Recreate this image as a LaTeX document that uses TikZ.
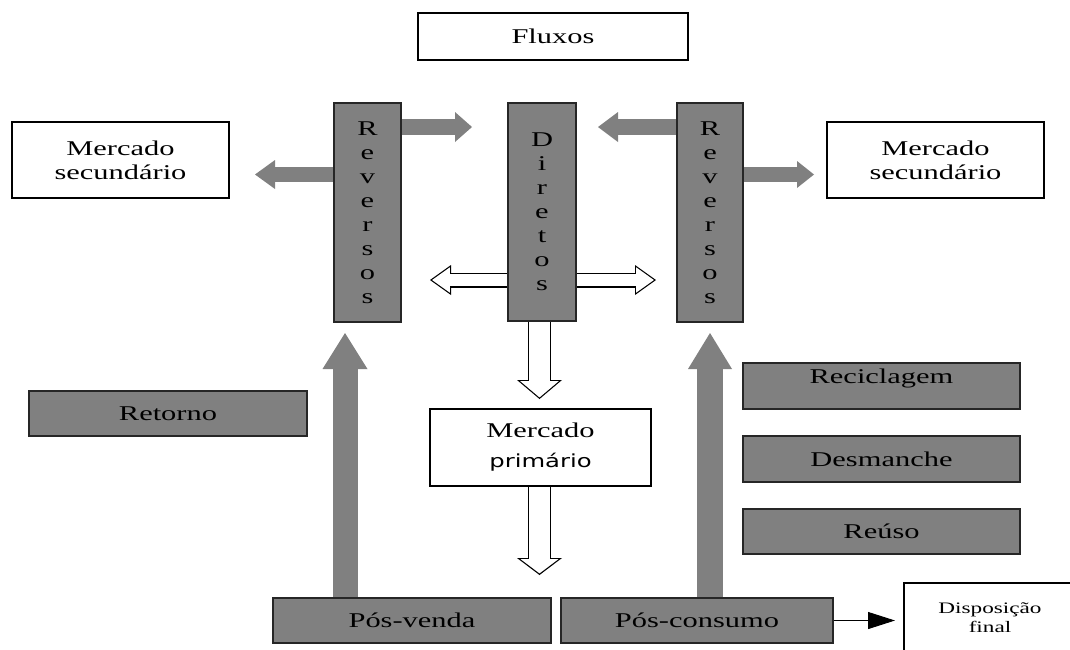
\documentclass[tikz,border=0pt]{standalone}
\usepackage{fontspec}
\setmainfont[FakeStretch=1.45]{Liberation Serif}
\newfontfamily\primfont[FakeStretch=1.35]{DejaVu Sans}
\usetikzlibrary{arrows.meta}
\usetikzlibrary{calc}
\pgfdeclarelayer{background}
\pgfsetlayers{background,main}
\definecolor{flowgray}{gray}{0.5}

\tikzset{
  whitebox/.style={draw=black, line width=1.2pt, fill=white, inner sep=0pt, align=center,
    font=\fontsize{21}{24}\selectfont},
  graybox/.style={whitebox, fill=flowgray, draw=black!85},
  gflow/.style={draw=flowgray, line width=#1},
  oouter/.style={draw=black, line width=#1},
  oinner/.style={draw=white, line width=#1},
}

\begin{document}
\begin{tikzpicture}[x=1pt,y=-1pt]
    \useasboundingbox (0,0) rectangle (1070,649);

    % BOXES
    \node[whitebox, minimum width=270pt, minimum height=47pt] (flux) at (553,36.5) {Fluxos};
    \node[whitebox, minimum width=217pt, minimum height=76pt] (msecL) at (120.5,160) {Mercado\\secundário};
    \node[whitebox, minimum width=217pt, minimum height=76pt] (msecR) at (935.5,160) {Mercado\\secundário};
    \node[graybox, minimum width=67pt, minimum height=219pt] (revL) at (367.5,212.5) {R\\e\\v\\e\\r\\s\\o\\s};
    \node[graybox, minimum width=68pt, minimum height=218pt] (dir) at (542,212) {D\\i\\r\\e\\t\\o\\s};
    \node[graybox, minimum width=66pt, minimum height=219pt] (revR) at (710,212.5) {R\\e\\v\\e\\r\\s\\o\\s};
    \node[whitebox, minimum width=221pt, minimum height=77pt] (prim) at (540.5,447.5)
      {Mercado\\[6pt]{\primfont\fontsize{18}{20}\selectfont primário}};
    \node[graybox, minimum width=278pt, minimum height=45pt] (ret) at (168,413.5) {Retorno};
    \node[graybox, minimum width=277pt, minimum height=46pt] (recic) at (881.5,386) {\raisebox{3pt}[0pt][0pt]{Reciclagem}};
    \node[graybox, minimum width=277pt, minimum height=46pt] (desm) at (881.5,459) {Desmanche};
    \node[graybox, minimum width=277pt, minimum height=45pt] (reuso) at (881.5,531.5) {Reúso};
    \node[graybox, minimum width=278pt, minimum height=45pt] (pv) at (412,620.5) {Pós-venda};
    \node[graybox, minimum width=272pt, minimum height=45pt] (pcons) at (697,620.5) {Pós-consumo};
    \node[whitebox, minimum width=172pt, minimum height=70pt, font=\fontsize{16}{19}\selectfont] (disp) at (990,618) {Disposição\\final};

    % ARROW ENDS
    \coordinate (tDirL) at (472,127);
    \coordinate (tDirR) at (598,127);
    \coordinate (tSecL) at (255,174.5);
    \coordinate (tSecR) at (814,174.5);
    \coordinate (tRevL) at (345,333);
    \coordinate (tRevR) at (710,333);
    \coordinate (tOutL) at (430,280);
    \coordinate (tOutR) at (656,280);
    \coordinate (tPrim) at (539.5,399);
    \coordinate (tDown) at (539.5,575);
    \coordinate (tDisp) at (895,620.5);

    \begin{pgfonlayer}{background}
    % GRAY FLOWS
    \draw[gflow=16pt, -{Triangle[length=17pt,width=30pt,line width=0pt]}] (revL.east |- tDirL) -- (tDirL);
    \draw[gflow=16pt, -{Triangle[length=20pt,width=30pt,line width=0pt]}] (revR.west |- tDirR) -- (tDirR);
    \draw[gflow=15pt, -{Triangle[length=20pt,width=29pt,line width=0pt]}] (revL.west |- tSecL) -- (tSecL);
    \draw[gflow=15pt, -{Triangle[length=17pt,width=27pt,line width=0pt]}] (revR.east |- tSecR) -- (tSecR);
    \draw[gflow=25pt, -{Triangle[length=36pt,width=45pt,line width=0pt]}] (tRevL |- pv.north) -- (tRevL);
    \draw[gflow=26pt, -{Triangle[length=36pt,width=44pt,line width=0pt]}] (tRevR |- pcons.north) -- (tRevR);

    % OPEN FLOWS
    \draw[oouter=15pt, -{Triangle[length=21pt,width=30pt,line width=0pt]}] (dir.west |- tOutL) -- (tOutL);
    \draw[oinner=12.6pt, shorten >=2.1pt, -{Triangle[length=17.7pt,width=25.3pt,line width=0pt]}] (dir.west |- tOutL) -- (tOutL);
    \draw[oouter=15pt, -{Triangle[length=21pt,width=30pt,line width=0pt]}] (dir.east |- tOutR) -- (tOutR);
    \draw[oinner=12.6pt, shorten >=2.1pt, -{Triangle[length=17.7pt,width=25.3pt,line width=0pt]}] (dir.east |- tOutR) -- (tOutR);
    \draw[oouter=23pt, -{Triangle[length=19pt,width=45pt,line width=0pt]}] (tPrim |- dir.south) -- (tPrim);
    \draw[oinner=20.6pt, shorten >=1.6pt, -{Triangle[length=16.2pt,width=38.4pt,line width=0pt]}] (tPrim |- dir.south) -- (tPrim);
    \draw[oouter=23pt, -{Triangle[length=17pt,width=45pt,line width=0pt]}] (tDown |- prim.south) -- (tDown);
    \draw[oinner=20.6pt, shorten >=1.6pt, -{Triangle[length=14.2pt,width=37.6pt,line width=0pt]}] (tDown |- prim.south) -- (tDown);
    \end{pgfonlayer}

    % FINAL
    \draw[line width=1pt, -{Triangle[length=27pt,width=17pt]}] (pcons.east) -- (tDisp);
\end{tikzpicture}
\end{document}
